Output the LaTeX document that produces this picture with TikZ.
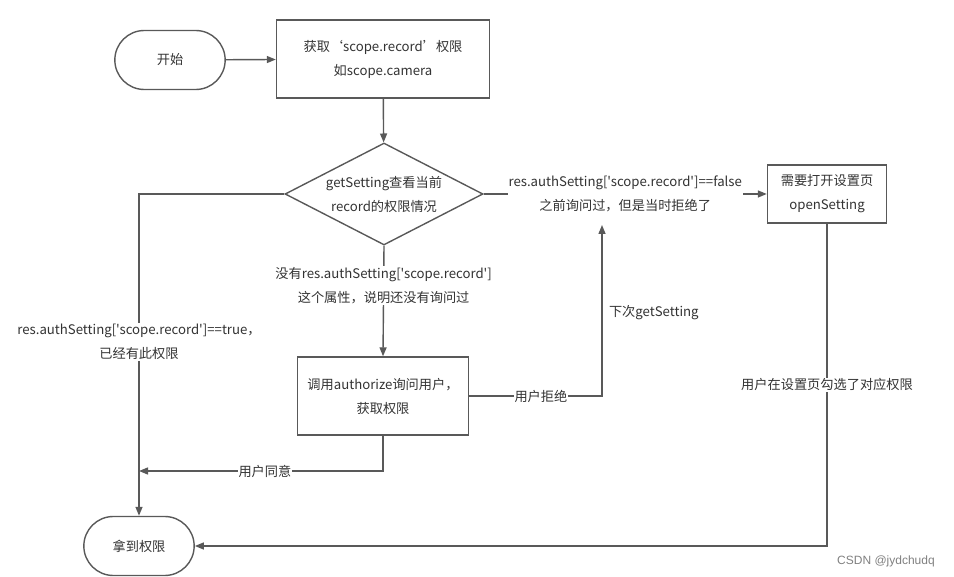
\documentclass[tikz,border=0pt]{standalone}
\usepackage{fontspec}
\newfontfamily\cjk{Noto Sans CJK SC}[Ligatures=TeXOff]
\newfontfamily\marksans{Liberation Sans}
\usetikzlibrary{shapes.geometric,shapes.misc,arrows.meta}
\definecolor{linegray}{HTML}{595959}
\definecolor{ink}{HTML}{333333}

\begin{document}
\begin{tikzpicture}[x=1pt, y=-1pt, font=\cjk\fontsize{13.2}{24}\selectfont, text=ink,
    term/.style = {draw=linegray, line width=1.4pt, rounded rectangle, minimum width=117pt, minimum height=59pt},
    box/.style = {draw=linegray, line width=1.4pt, align=center, inner sep=0pt},
    cond/.style = {draw=linegray, line width=1.4pt, diamond, aspect=2, inner sep=0pt, minimum width=198pt, minimum height=102pt, align=center},
    flow/.style = {draw=linegray, line width=1.4pt, -{Triangle[length=9pt,width=7pt]}},
    lbl/.style = {fill=white, inner sep=1pt, align=center}]
  \useasboundingbox (0,0) rectangle (954,577);

  % nodes
  \node[term] (start) at (170,60) {开始};
  \node[box, minimum width=213pt, minimum height=78pt] (get) at (383,59) {获取‘scope.record’权限\\如scope.camera};
  \node[cond] (check) at (384,194) {getSetting查看当前\\record的权限情况};
  \node[box, minimum width=119pt, minimum height=58pt] (open) at (827,194) {需要打开设置页\\openSetting};
  \node[box, minimum width=171pt, minimum height=78pt] (ask) at (383,396) {调用authorize询问用户，\\获取权限};
  \node[term] (done) at (139,546) {拿到权限};
  \coordinate (back) at (602,225);
  \coordinate (meet) at (139,471);

  % connectors
  \draw[flow] (start) -- (get);
  \draw[flow] (get) -- (check);
  \draw[flow] (check.west) -| node[lbl, pos=0.73] {res.authSetting['scope.record']==true，\\已经有此权限} (done.north);
  \draw[flow] (check.east) -- node[lbl] (no) {res.authSetting['scope.record']==false\\之前询问过，但是当时拒绝了} (open.west);
  \draw[flow] (check.south) -- node[lbl, pos=0.36] {没有res.authSetting['scope.record']\\这个属性，说明还没有询问过} (ask.north);
  \draw[flow] (ask.east) -| node[lbl, pos=0.27] {用户拒绝}
    node[pos=0.745, right=3pt] {下次getSetting} (back);
  \draw[flow] (ask.south) |- node[lbl, pos=0.742] {用户同意} (meet);
  \draw[flow] (open.south) |- node[lbl, pos=0.25] {用户在设置页勾选了对应权限} (done.east);

  \node[text=gray, font=\marksans\fontsize{12}{14}\selectfont] (mark) at (886,561) {CSDN @jydchudq};
\end{tikzpicture}
\end{document}
